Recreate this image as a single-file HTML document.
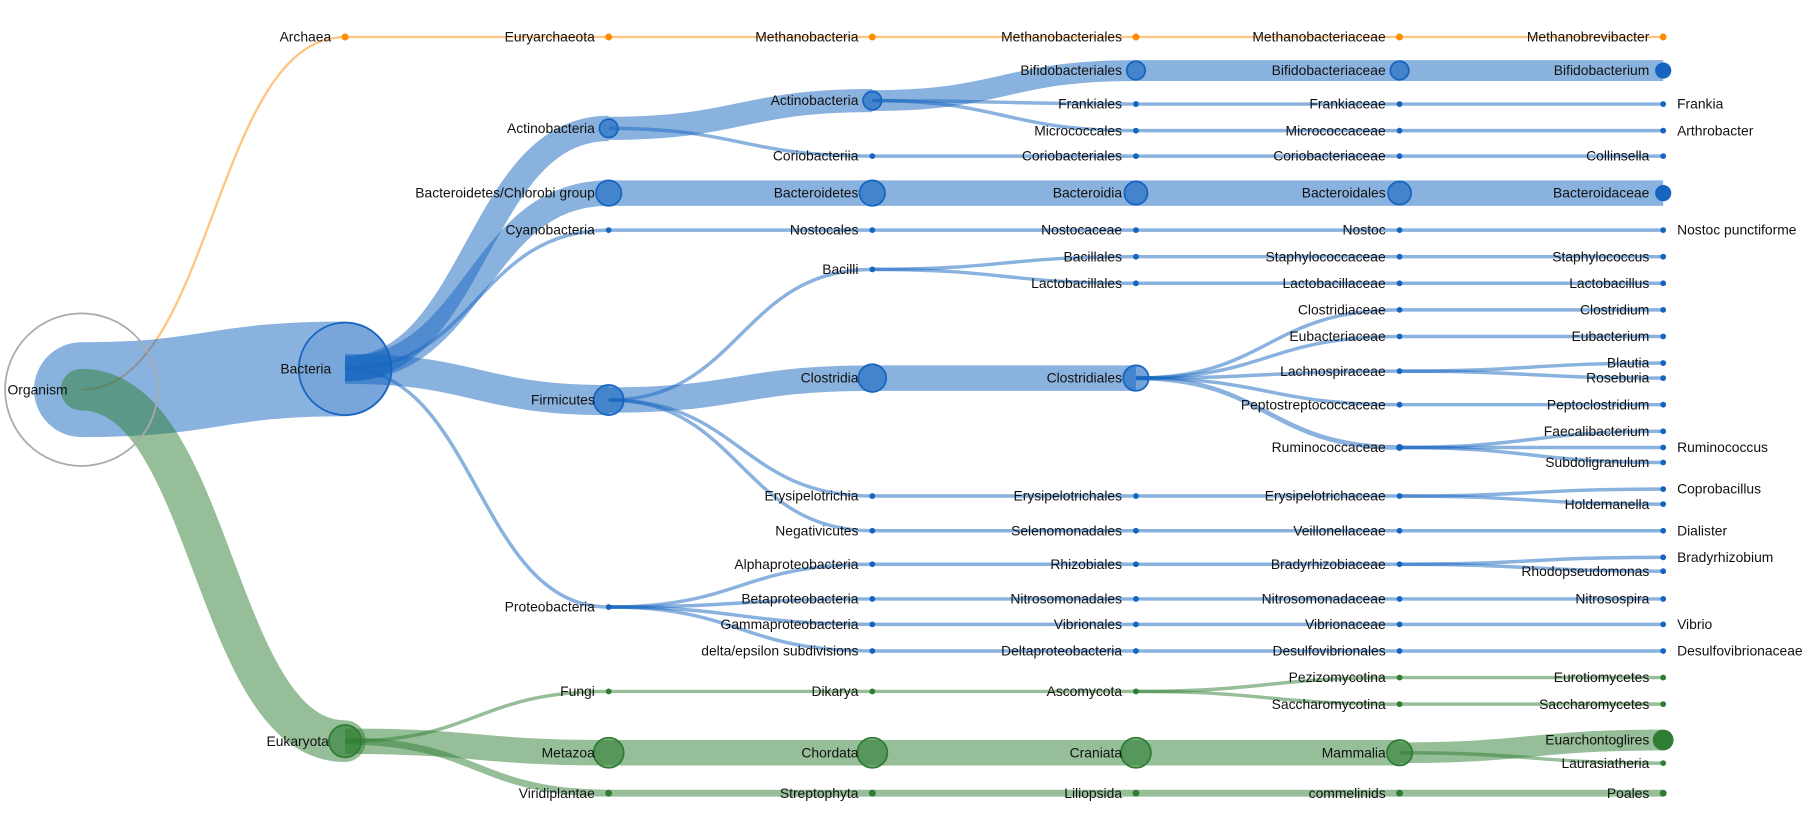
<!DOCTYPE html>
<html><head><meta charset="utf-8"><style>
html,body{margin:0;padding:0;background:#fff}
svg{display:block}
text{font-family:"Liberation Sans",Arial,sans-serif;font-size:12px;fill:#111}
.b{fill:none;stroke:rgba(21,101,192,0.5)}
.g{fill:none;stroke:rgba(46,125,50,0.5)}
.o{fill:none;stroke:rgba(255,140,0,0.5)}
.nb{fill:rgba(21,101,192,0.6);stroke:#1565c0;stroke-width:1.5}
.ng{fill:rgba(46,125,50,0.6);stroke:#2e7d32;stroke-width:1.5}
.db{fill:#1565c0}.dg{fill:#2e7d32}.do{fill:#ff8c00}
.r{text-anchor:end}
</style></head><body>
<svg width="1814" height="814" viewBox="0 0 1568 704" xmlns="http://www.w3.org/2000/svg">
<g stroke-linecap="butt">
<path class="o" stroke-width="2" d="M70 337C184 337 184 32 298 32"/>
<path class="o" stroke-width="2" d="M298 32H1438"/>
<path class="b" stroke-width="82" stroke-linecap="round" d="M70 337C184 337 184 319 298 319"/>
<path class="g" stroke-width="36" stroke-linecap="round" d="M70 337C184 337 184 641 298 641"/>
<path class="b" stroke-width="22" d="M298 319C412 319 412 111 526 111"/>
<path class="b" stroke-width="22" d="M298 319C412 319 412 167 526 167"/>
<path class="b" stroke-width="3" d="M298 319C412 319 412 199 526 199"/>
<path class="b" stroke-width="26" d="M298 319C412 319 412 346 526 346"/>
<path class="b" stroke-width="3" d="M298 319C412 319 412 525 526 525"/>
<path class="b" stroke-width="20" d="M526 111C640 111 640 87 754 87"/>
<path class="b" stroke-width="3" d="M526 111C640 111 640 135 754 135"/>
<path class="b" stroke-width="18" d="M754 87C868 87 868 61 982 61"/>
<path class="b" stroke-width="3" d="M754 87C868 87 868 90 982 90"/>
<path class="b" stroke-width="3" d="M754 87C868 87 868 113 982 113"/>
<path class="b" stroke-width="18" d="M982 61H1438"/>
<path class="b" stroke-width="3" d="M982 90H1438M982 113H1438M754 135H1438"/>
<path class="b" stroke-width="22" d="M526 167H1438"/>
<path class="b" stroke-width="3" d="M526 199H1438"/>
<path class="b" stroke-width="3" d="M526 346C640 346 640 233 754 233"/>
<path class="b" stroke-width="22" d="M526 346C640 346 640 327 754 327"/>
<path class="b" stroke-width="3" d="M526 346C640 346 640 429 754 429"/>
<path class="b" stroke-width="3" d="M526 346C640 346 640 459 754 459"/>
<path class="b" stroke-width="3" d="M754 233C868 233 868 222 982 222"/>
<path class="b" stroke-width="3" d="M754 233C868 233 868 245 982 245"/>
<path class="b" stroke-width="3" d="M982 222H1438M982 245H1438"/>
<path class="b" stroke-width="22" d="M754 327H982"/>
<path class="b" stroke-width="3" d="M982 327C1096 327 1096 268 1210 268"/>
<path class="b" stroke-width="3" d="M982 327C1096 327 1096 291 1210 291"/>
<path class="b" stroke-width="3" d="M982 327C1096 327 1096 321 1210 321"/>
<path class="b" stroke-width="3" d="M982 327C1096 327 1096 350 1210 350"/>
<path class="b" stroke-width="4" d="M982 327C1096 327 1096 387 1210 387"/>
<path class="b" stroke-width="3" d="M1210 268H1438M1210 291H1438M1210 350H1438M1210 387H1438"/>
<path class="b" stroke-width="3" d="M1210 321C1324 321 1324 314 1438 314"/>
<path class="b" stroke-width="3" d="M1210 321C1324 321 1324 327 1438 327"/>
<path class="b" stroke-width="3" d="M1210 387C1324 387 1324 373 1438 373"/>
<path class="b" stroke-width="3" d="M1210 387C1324 387 1324 400 1438 400"/>
<path class="b" stroke-width="3" d="M754 429H1210M754 459H1438"/>
<path class="b" stroke-width="3" d="M1210 429C1324 429 1324 423 1438 423"/>
<path class="b" stroke-width="3" d="M1210 429C1324 429 1324 436 1438 436"/>
<path class="b" stroke-width="3" d="M526 525C640 525 640 488 754 488"/>
<path class="b" stroke-width="3" d="M526 525C640 525 640 518 754 518"/>
<path class="b" stroke-width="3" d="M526 525C640 525 640 540 754 540"/>
<path class="b" stroke-width="3" d="M526 525C640 525 640 563 754 563"/>
<path class="b" stroke-width="3" d="M754 488H1210M754 518H1438M754 540H1438M754 563H1438"/>
<path class="b" stroke-width="3" d="M1210 488C1324 488 1324 482 1438 482"/>
<path class="b" stroke-width="3" d="M1210 488C1324 488 1324 494 1438 494"/>
<path class="g" stroke-width="3" d="M298 641C412 641 412 598 526 598"/>
<path class="g" stroke-width="22" d="M298 641C412 641 412 651 526 651"/>
<path class="g" stroke-width="6" d="M298 641C412 641 412 686 526 686"/>
<path class="g" stroke-width="3" d="M526 598H982"/>
<path class="g" stroke-width="3" d="M982 598C1096 598 1096 586 1210 586"/>
<path class="g" stroke-width="3" d="M982 598C1096 598 1096 609 1210 609"/>
<path class="g" stroke-width="3" d="M1210 586H1438M1210 609H1438"/>
<path class="g" stroke-width="22" d="M526 651H1210"/>
<path class="g" stroke-width="18" d="M1210 651C1324 651 1324 640 1438 640"/>
<path class="g" stroke-width="3" d="M1210 651C1324 651 1324 660 1438 660"/>
<path class="g" stroke-width="6" d="M526 686H1438"/>
</g>
<circle cx="70" cy="337" r="66" fill="none" stroke="#aaa" stroke-width="1.5"/>
<circle cx="298" cy="319" r="40" class="nb" style="fill:rgba(21,101,192,0.15)"/>
<g class="do"><circle cx="298" cy="32" r="3"/><circle cx="526" cy="32" r="3"/><circle cx="754" cy="32" r="3"/><circle cx="982" cy="32" r="3"/><circle cx="1210" cy="32" r="3"/><circle cx="1438" cy="32" r="3"/></g>
<g class="nb">
<circle cx="526" cy="111" r="8"/><circle cx="526" cy="167" r="11"/><circle cx="526" cy="346" r="13"/>
<circle cx="754" cy="87" r="8"/><circle cx="982" cy="61" r="8"/><circle cx="1210" cy="61" r="8"/>
<circle cx="754" cy="167" r="11"/><circle cx="982" cy="167" r="10"/><circle cx="1210" cy="167" r="10"/>
<circle cx="754" cy="327" r="12"/><circle cx="982" cy="327" r="11"/>
</g>
<g class="db">
<circle cx="1438" cy="61" r="7"/><circle cx="1438" cy="167" r="7"/>
<circle cx="526" cy="199" r="2.5"/><circle cx="526" cy="525" r="2.5"/>
<circle cx="754" cy="135" r="2.5"/><circle cx="754" cy="199" r="2.5"/><circle cx="754" cy="233" r="2.5"/><circle cx="754" cy="429" r="2.5"/><circle cx="754" cy="459" r="2.5"/><circle cx="754" cy="488" r="2.5"/><circle cx="754" cy="518" r="2.5"/><circle cx="754" cy="540" r="2.5"/><circle cx="754" cy="563" r="2.5"/>
<circle cx="982" cy="90" r="2.5"/><circle cx="982" cy="113" r="2.5"/><circle cx="982" cy="135" r="2.5"/><circle cx="982" cy="199" r="2.5"/><circle cx="982" cy="222" r="2.5"/><circle cx="982" cy="245" r="2.5"/><circle cx="982" cy="429" r="2.5"/><circle cx="982" cy="459" r="2.5"/><circle cx="982" cy="488" r="2.5"/><circle cx="982" cy="518" r="2.5"/><circle cx="982" cy="540" r="2.5"/><circle cx="982" cy="563" r="2.5"/>
<circle cx="1210" cy="90" r="2.5"/><circle cx="1210" cy="113" r="2.5"/><circle cx="1210" cy="135" r="2.5"/><circle cx="1210" cy="199" r="2.5"/><circle cx="1210" cy="222" r="2.5"/><circle cx="1210" cy="245" r="2.5"/><circle cx="1210" cy="268" r="2.5"/><circle cx="1210" cy="291" r="2.5"/><circle cx="1210" cy="321" r="2.5"/><circle cx="1210" cy="350" r="2.5"/><circle cx="1210" cy="387" r="3"/><circle cx="1210" cy="429" r="2.5"/><circle cx="1210" cy="459" r="2.5"/><circle cx="1210" cy="488" r="2.5"/><circle cx="1210" cy="518" r="2.5"/><circle cx="1210" cy="540" r="2.5"/><circle cx="1210" cy="563" r="2.5"/>
<circle cx="1438" cy="90" r="2.5"/><circle cx="1438" cy="113" r="2.5"/><circle cx="1438" cy="135" r="2.5"/><circle cx="1438" cy="199" r="2.5"/><circle cx="1438" cy="222" r="2.5"/><circle cx="1438" cy="245" r="2.5"/><circle cx="1438" cy="268" r="2.5"/><circle cx="1438" cy="291" r="2.5"/><circle cx="1438" cy="314" r="2.5"/><circle cx="1438" cy="327" r="2.5"/><circle cx="1438" cy="350" r="2.5"/><circle cx="1438" cy="373" r="2.5"/><circle cx="1438" cy="387" r="2.5"/><circle cx="1438" cy="400" r="2.5"/><circle cx="1438" cy="423" r="2.5"/><circle cx="1438" cy="436" r="2.5"/><circle cx="1438" cy="459" r="2.5"/><circle cx="1438" cy="482" r="2.5"/><circle cx="1438" cy="494" r="2.5"/><circle cx="1438" cy="518" r="2.5"/><circle cx="1438" cy="540" r="2.5"/><circle cx="1438" cy="563" r="2.5"/>
</g>
<g class="ng">
<circle cx="298" cy="641" r="14"/><circle cx="526" cy="651" r="13"/><circle cx="754" cy="651" r="13"/><circle cx="982" cy="651" r="13"/><circle cx="1210" cy="651" r="11"/>
</g>
<g class="dg">
<circle cx="1438" cy="640" r="9"/>
<circle cx="526" cy="598" r="2.5"/><circle cx="754" cy="598" r="2.5"/><circle cx="982" cy="598" r="2.5"/><circle cx="1210" cy="586" r="2.5"/><circle cx="1210" cy="609" r="2.5"/><circle cx="1438" cy="586" r="2.5"/><circle cx="1438" cy="609" r="2.5"/><circle cx="1438" cy="660" r="2.5"/>
<circle cx="526" cy="686" r="3"/><circle cx="754" cy="686" r="3"/><circle cx="982" cy="686" r="3"/><circle cx="1210" cy="686" r="3"/><circle cx="1438" cy="686" r="3"/>
</g>
<g class="r">
<text x="58" y="341">Organism</text>
<text x="286" y="36">Archaea</text>
<text x="286" y="323">Bacteria</text>
<text x="284" y="645">Eukaryota</text>
<text x="514" y="36">Euryarchaeota</text>
<text x="514" y="115">Actinobacteria</text>
<text x="514" y="171">Bacteroidetes/Chlorobi group</text>
<text x="514" y="203">Cyanobacteria</text>
<text x="514" y="350">Firmicutes</text>
<text x="514" y="529">Proteobacteria</text>
<text x="514" y="602">Fungi</text>
<text x="514" y="655">Metazoa</text>
<text x="514" y="690">Viridiplantae</text>
<text x="742" y="36">Methanobacteria</text>
<text x="742" y="91">Actinobacteria</text>
<text x="742" y="139">Coriobacteriia</text>
<text x="742" y="171">Bacteroidetes</text>
<text x="742" y="203">Nostocales</text>
<text x="742" y="237">Bacilli</text>
<text x="742" y="331">Clostridia</text>
<text x="742" y="433">Erysipelotrichia</text>
<text x="742" y="463">Negativicutes</text>
<text x="742" y="492">Alphaproteobacteria</text>
<text x="742" y="522">Betaproteobacteria</text>
<text x="742" y="544">Gammaproteobacteria</text>
<text x="742" y="567">delta/epsilon subdivisions</text>
<text x="742" y="602">Dikarya</text>
<text x="742" y="655">Chordata</text>
<text x="742" y="690">Streptophyta</text>
<text x="970" y="36">Methanobacteriales</text>
<text x="970" y="65">Bifidobacteriales</text>
<text x="970" y="94">Frankiales</text>
<text x="970" y="117">Micrococcales</text>
<text x="970" y="139">Coriobacteriales</text>
<text x="970" y="171">Bacteroidia</text>
<text x="970" y="203">Nostocaceae</text>
<text x="970" y="226">Bacillales</text>
<text x="970" y="249">Lactobacillales</text>
<text x="970" y="331">Clostridiales</text>
<text x="970" y="433">Erysipelotrichales</text>
<text x="970" y="463">Selenomonadales</text>
<text x="970" y="492">Rhizobiales</text>
<text x="970" y="522">Nitrosomonadales</text>
<text x="970" y="544">Vibrionales</text>
<text x="970" y="567">Deltaproteobacteria</text>
<text x="970" y="602">Ascomycota</text>
<text x="970" y="655">Craniata</text>
<text x="970" y="690">Liliopsida</text>
<text x="1198" y="36">Methanobacteriaceae</text>
<text x="1198" y="65">Bifidobacteriaceae</text>
<text x="1198" y="94">Frankiaceae</text>
<text x="1198" y="117">Micrococcaceae</text>
<text x="1198" y="139">Coriobacteriaceae</text>
<text x="1198" y="171">Bacteroidales</text>
<text x="1198" y="203">Nostoc</text>
<text x="1198" y="226">Staphylococcaceae</text>
<text x="1198" y="249">Lactobacillaceae</text>
<text x="1198" y="272">Clostridiaceae</text>
<text x="1198" y="295">Eubacteriaceae</text>
<text x="1198" y="325">Lachnospiraceae</text>
<text x="1198" y="354">Peptostreptococcaceae</text>
<text x="1198" y="391">Ruminococcaceae</text>
<text x="1198" y="433">Erysipelotrichaceae</text>
<text x="1198" y="463">Veillonellaceae</text>
<text x="1198" y="492">Bradyrhizobiaceae</text>
<text x="1198" y="522">Nitrosomonadaceae</text>
<text x="1198" y="544">Vibrionaceae</text>
<text x="1198" y="567">Desulfovibrionales</text>
<text x="1198" y="590">Pezizomycotina</text>
<text x="1198" y="613">Saccharomycotina</text>
<text x="1198" y="655">Mammalia</text>
<text x="1198" y="690">commelinids</text>
<text x="1426" y="36">Methanobrevibacter</text>
<text x="1426" y="65">Bifidobacterium</text>
<text x="1426" y="139">Collinsella</text>
<text x="1426" y="171">Bacteroidaceae</text>
<text x="1426" y="226">Staphylococcus</text>
<text x="1426" y="249">Lactobacillus</text>
<text x="1426" y="272">Clostridium</text>
<text x="1426" y="295">Eubacterium</text>
<text x="1426" y="318">Blautia</text>
<text x="1426" y="331">Roseburia</text>
<text x="1426" y="354">Peptoclostridium</text>
<text x="1426" y="377">Faecalibacterium</text>
<text x="1426" y="404">Subdoligranulum</text>
<text x="1426" y="440">Holdemanella</text>
<text x="1426" y="498">Rhodopseudomonas</text>
<text x="1426" y="522">Nitrosospira</text>
<text x="1426" y="590">Eurotiomycetes</text>
<text x="1426" y="613">Saccharomycetes</text>
<text x="1426" y="644">Euarchontoglires</text>
<text x="1426" y="664">Laurasiatheria</text>
<text x="1426" y="690">Poales</text>
</g>
<text x="1450" y="94">Frankia</text>
<text x="1450" y="117">Arthrobacter</text>
<text x="1450" y="203">Nostoc punctiforme</text>
<text x="1450" y="391">Ruminococcus</text>
<text x="1450" y="427">Coprobacillus</text>
<text x="1450" y="463">Dialister</text>
<text x="1450" y="486">Bradyrhizobium</text>
<text x="1450" y="544">Vibrio</text>
<text x="1450" y="567">Desulfovibrionaceae</text>
</svg>
</body></html>
